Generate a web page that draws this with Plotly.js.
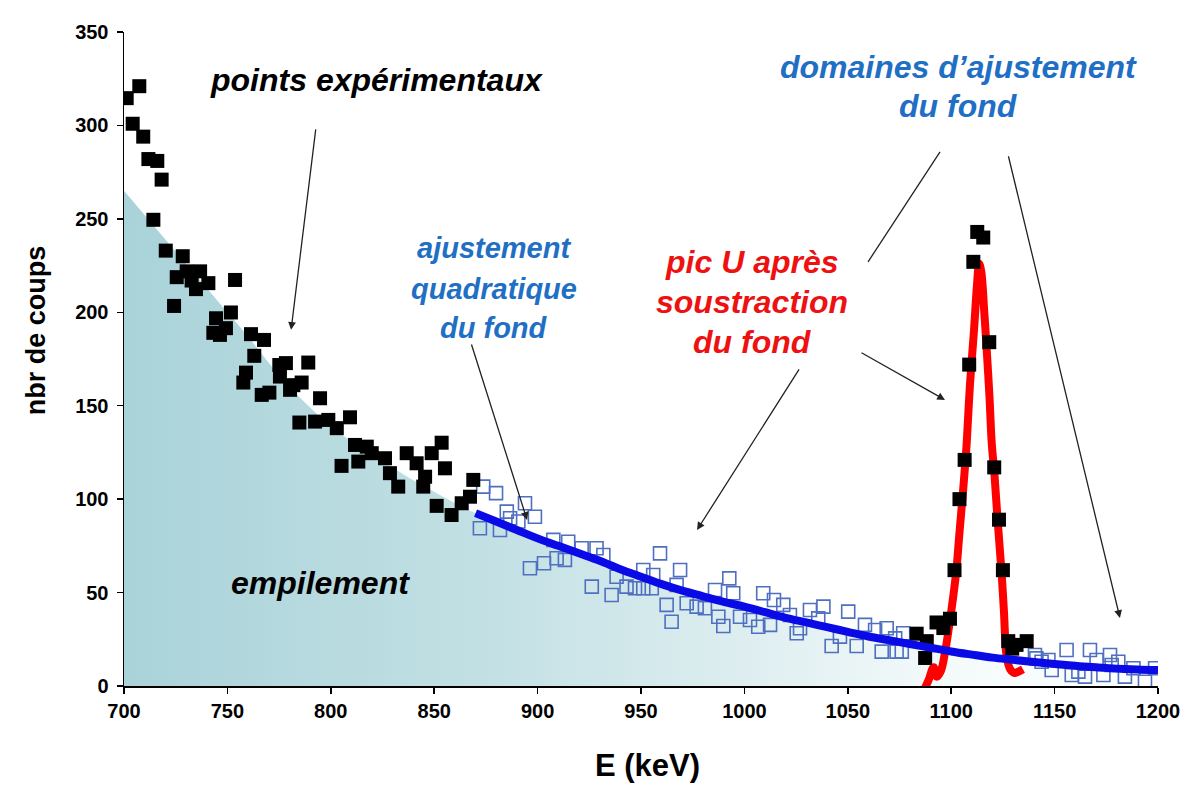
<!DOCTYPE html>
<html>
<head>
<meta charset="utf-8">
<script src="https://cdn.plot.ly/plotly-3.0.1.min.js"></script>
<style>html,body{margin:0;padding:0;background:#fff;}#chart{width:1186px;height:785px;}</style>
</head>
<body>
<div id="chart"></div>
<script>
// experimental points (black squares)
var expE = [701.3,707.4,704.2,709.3,711.8,716.1,718.2,714.2,720.2,728.4,725.5,730.3,736.8,740.8,734.8,732.7,753.7,724.2,744.5,751.7,743.2,749.3,746.4,761.4,767.7,763,759,757.7,766.6,770.3,775.1,778.3,775.4,780.3,785.9,789.1,784.8,781.9,794.8,792.4,798.8,802.9,809.3,811.7,817.4,805.2,813.3,819.8,826.2,828.6,832.6,836.7,841.5,845.6,844.7,848.8,853.6,855.2,851.2,858.4,863.3,867.3,868.9,
  1083.3,1087.4,1088.2,1092.9,1096.2,1099.4,1101.6,1104,1106.5,1108.7,1110.7,1112.6,1115.5,1118.4,1120.8,1123.1,1125,1127.6,1129.5,1131.6,1136.5];
var expCounts = [314.6,321,300.9,294,282,281,271,249.5,233,230,218.8,221.9,221.9,215.6,212.4,217,217.3,203.4,196.8,199.9,189,191.5,187.9,188.3,185.2,176.7,167.7,162.4,155.8,157,171.8,172.8,165.6,158.5,162.4,173.1,141,161,154,141.5,142.4,138,143.8,129,128.1,117.8,120.1,124.6,121.9,113.9,106.7,124.6,119.2,112,106.7,124.6,130.2,116.5,96.4,91.5,97.8,101.3,110.3,
  28,15,24,34,31,36,62,100,121,172,227,243,240,184,117,89,62,24,20,22,24];

// background-fit domain points (open blue squares)
var bgE = [872.1,873.7,879.9,881.8,885.1,886.7,890.7,893.9,896.3,898.7,903.1,907.6,909.2,913.2,914.8,921.3,926.2,928.5,931.8,935.8,938.2,943,947.1,951.1,951.1,955.2,955.9,959.2,962.4,964.8,967.2,968.9,972.1,976.9,980.9,985.8,987.4,989.8,992.7,994.6,997.9,1002.7,1006.7,1009.1,1012.4,1014.3,1018.8,1022,1025.3,1026.9,1031.7,1035.7,1038.2,1042.2,1046.2,1050.2,1054.3,1058.3,1063.2,1066.4,1068.8,1072.9,1073.6,1076.1,1076.8,
  1140.5,1141.2,1143.7,1147,1148.6,1155.8,1158.3,1161.5,1164.7,1167.1,1170.3,1173.6,1176.8,1177.6,1180.8,1184,1188.1,1193.7,1198.6];
var bgCounts = [84.4,106.7,103.2,83.5,93.3,89.8,88,97.8,63,90.6,65.7,78.2,68.4,67.5,77.2,73.7,53.2,73.7,70.1,48.7,58.5,53.2,52.3,62.1,52.3,52.3,59.4,71,43.4,34.4,54.1,62.1,44.3,42.5,41.6,51.4,37.1,32.1,57.6,49.6,37.1,35.3,31.7,49.6,32.7,46,43.4,38,28.2,30.9,40.7,36.2,42.5,21.4,26.4,39.8,21.4,32.7,30,18.4,30.9,25.5,18.4,18.4,28.2,
  16.6,14.8,13,13.9,8.6,19.3,5.9,7.7,5,19.3,13.9,5.9,16.6,11.2,13,5,9.5,2.3,9.5];

// quadratic background fit (blue line)
var fitE = [870,880,890,900,910,920,930,940,950,960,970,980,990,1000,1010,1020,1030,1040,1050,1060,1070,1080,1090,1100,1110,1120,1130,1140,1150,1160,1170,1180,1190,1200];
var fitCounts = [92.5,88,83.5,79,75,71,67,62.5,58.5,54.5,51,48,45,42.5,39.5,36.5,34,31.5,29,26.5,24.5,22.5,20.5,18.5,16.8,15.2,14,12.8,11.8,10.8,10,9.3,8.8,8.5];

// U peak after background subtraction (red line)
var peakE = [1086.5,1089,1091.5,1093,1095,1097,1099,1101,1102.5,1104,1106,1107.5,1109,1111,1112.5,1113.5,1114.5,1116,1117,1118.5,1119.6,1121,1122.5,1124.4,1125.5,1126.8,1128.5,1130.8,1133,1134.7];
var peakCounts = [-3,3,10,5,8,18,32,48,62,82,108,130,160,190,215,226,222,200,183,155,130,112,88,60,40,16,9,7,8,9];

// pile-up (shaded area)
var pileE = [700,710,720,730,740,750,760,770,780,790,800,810,820,830,840,850,860,870,880,890,900,910,920,930,940,950,960,970,980,990,1000,1010,1020,1030,1040,1050,1060,1070,1080,1090,1100,1110,1120,1130,1140,1150,1160,1170,1180,1190,1200];
var pileCounts = [265,252,239,226,213,200,187,173,160,149,139,131,124,117,110,104,98,92.5,88,83.5,79,75,71,67,62.5,58.5,54.5,51,48,45,42.5,39.5,36.5,34,31.5,29,26.5,24.5,22.5,20.5,18.5,16.8,15.2,14,12.8,11.8,10.8,10,9.3,8.8,8.5];

var xTicks = [700,750,800,850,900,950,1000,1050,1100,1150,1200];
var yTicks = [0,50,100,150,200,250,300,350];

var FONT = 'Liberation Sans, Arial, sans-serif';
var BLUE_TXT = '#1f6fc5';
var RED_TXT = '#ee1111';

var traces = [
  {x: pileE, y: pileCounts, type: 'scatter', mode: 'lines', line: {width: 0, color: 'rgba(0,0,0,0)', shape: 'spline'},
   fill: 'tozeroy', fillgradient: {type: 'horizontal', colorscale: [[0,'#a9d3d9'],[0.35,'#c2e0e4'],[0.6,'#deeef0'],[0.8,'#f4fafa'],[1,'#ffffff']]},
   hoverinfo: 'skip'},
  {x: bgE, y: bgCounts, type: 'scatter', mode: 'markers',
   marker: {symbol: 'square-open', size: 13, color: '#4f70c0', line: {width: 1.6, color: '#4f70c0'}}},
  {x: peakE, y: peakCounts, type: 'scatter', mode: 'lines', line: {color: '#ff0000', width: 8, shape: 'spline'}},
  {x: expE, y: expCounts, type: 'scatter', mode: 'markers',
   marker: {symbol: 'square', size: 14, color: '#000000'}},
  {x: fitE, y: fitCounts, type: 'scatter', mode: 'lines', line: {color: '#0a0ae6', width: 8, shape: 'spline'}}
];

function txt(x, y, s, color, size) {
  return {x: x, y: y, xref: 'x', yref: 'y', text: '<b><i>' + s + '</i></b>', showarrow: false,
          font: {family: FONT, size: size, color: color}, align: 'center', xanchor: 'center', yanchor: 'middle'};
}
function arrow(hx, hy, tx, ty) {
  return {x: hx, y: hy, ax: tx, ay: ty, xref: 'x', yref: 'y', axref: 'x', ayref: 'y', text: '',
          showarrow: true, arrowhead: 2, arrowsize: 1.2, arrowwidth: 1.3, arrowcolor: '#222222'};
}

var layout = {
  width: 1186, height: 785,
  margin: {l: 124, r: 28, t: 32, b: 99},
  paper_bgcolor: 'white', plot_bgcolor: 'white',
  showlegend: false,
  font: {family: FONT, color: 'black'},
  xaxis: {range: [700, 1200], tickvals: xTicks, showgrid: false, zeroline: false, showline: true,
          linecolor: 'black', linewidth: 1.5, ticks: 'outside', ticklen: 6, tickwidth: 1.5, tickcolor: 'black',
          tickfont: {family: FONT, size: 20, weight: 'bold', color: 'black'}},
  yaxis: {range: [0, 350], tickvals: yTicks, showgrid: false, zeroline: false, showline: true,
          linecolor: 'black', linewidth: 1.5, ticks: 'outside', ticklen: 6, tickwidth: 1.5, tickcolor: 'black',
          ticklabelstandoff: 4,
          tickfont: {family: FONT, size: 20, weight: 'bold', color: 'black'}},
  shapes: [
    {type: 'line', xref: 'x', yref: 'y', x0: 1094.6, y0: 285.9, x1: 1059.8, y1: 227, line: {color: '#222222', width: 1.3}}
  ],
  annotations: [
    {xref: 'paper', yref: 'paper', x: 0.506, y: -0.121, text: '<b>E (keV)</b>', showarrow: false,
     xanchor: 'center', yanchor: 'middle', font: {family: FONT, size: 31, color: 'black'}},
    {xref: 'paper', yref: 'paper', x: -0.0851, y: 0.544, text: '<b>nbr de coups</b>', showarrow: false, textangle: -90,
     xanchor: 'center', yanchor: 'middle', font: {family: FONT, size: 27, color: 'black'}},
    arrow(780.8, 190.6, 792.8, 298.7),
    arrow(894.9, 88.9, 867.8, 183.6),
    arrow(977.1, 83.5, 1026.9, 170.2),
    arrow(1097, 153.1, 1055.9, 178.8),
    arrow(1181.6, 36.4, 1127.5, 284.3),
    txt(822.3, 324.4, 'points expérimentaux', 'black', 32),
    txt(794.8, 55.1, 'empilement', 'black', 32),
    txt(878.9, 234.5, 'ajustement', BLUE_TXT, 29),
    txt(878.9, 212.5, 'quadratique', BLUE_TXT, 29),
    txt(878.9, 191.6, 'du fond', BLUE_TXT, 29),
    txt(1003.7, 227, 'pic U après', RED_TXT, 32),
    txt(1003.7, 205.6, 'soustraction', RED_TXT, 32),
    txt(1003.7, 184.2, 'du fond', RED_TXT, 32),
    txt(1103.3, 331.4, 'domaines d\u2019ajustement', BLUE_TXT, 32),
    txt(1103.3, 310.5, 'du fond', BLUE_TXT, 32)
  ]
};

Plotly.newPlot('chart', traces, layout, {displayModeBar: false, staticPlot: true});
</script>
</body>
</html>
